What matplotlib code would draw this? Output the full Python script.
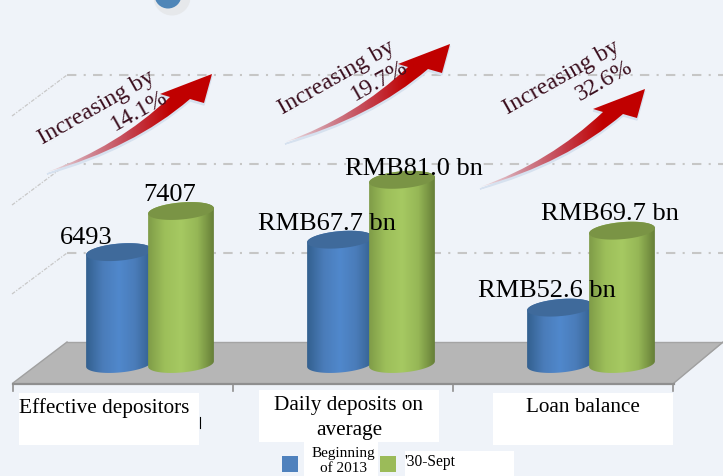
import numpy as np
import matplotlib
matplotlib.use("Agg")
import matplotlib.pyplot as plt
from matplotlib.colors import LinearSegmentedColormap
from matplotlib.patches import Circle, PathPatch, Polygon, Rectangle
from matplotlib.path import Path

plt.rcParams['font.family'] = ['Liberation Serif', 'DejaVu Serif']

categories = ["Effective depositors", "Daily deposits on\naverage", "Loan balance"]
series_names = ["Beginning\nof 2013", "'30-Sept"]
begin_values = [6493, 67.7, 52.6]
sept_values = [7407, 81.0, 69.7]
value_divisor = [100, 1, 1]  # depositors are plotted in hundreds
begin_labels = ["6493", "RMB67.7 bn", "RMB52.6 bn"]
sept_labels = ["7407", "RMB81.0 bn", "RMB69.7 bn"]
growth_labels = ["14.1%", "19.7%", "32.6%"]

BG = "#eff3f9"
AXIS_ZERO = 40.07   # value sitting on the floor
PX_PER_UNIT = 4.5
BASE_Y = 364

blue_cmap = LinearSegmentedColormap.from_list("b", ["#33608f", "#4a7cb9", "#5088cc", "#4a7cb9", "#34608f"])
green_cmap = LinearSegmentedColormap.from_list("g", ["#7f9c48", "#9dbf5a", "#a6c962", "#96b756", "#667f38"])
arrow_cmap = LinearSegmentedColormap.from_list("a", ["#efe6ea", "#d08a97", "#c4424f", "#c00000", "#c00000"])

fig = plt.figure(figsize=(7.23, 4.76), dpi=100, facecolor=BG)
ax = fig.add_axes([0, 0, 1, 1])
ax.set_facecolor(BG)
ax.axis("off")


def ellipse_pts(cx, cy, w, h, t):
    # ellipse tilted a little, right side higher
    a = np.deg2rad(-5)
    x = w / 2 * np.cos(t)
    y = h / 2 * np.sin(t)
    return cx + x * np.cos(a) - y * np.sin(a), cy + x * np.sin(a) + y * np.cos(a)


def draw_cylinder(left, value, cmap, top_color, z):
    w = 66
    top = BASE_Y - (value - AXIS_ZERO) * PX_PER_UNIT
    cx = left + w / 2
    bx, by = ellipse_pts(cx, BASE_Y, w, 17, np.linspace(0, np.pi, 40))
    tx, ty = ellipse_pts(cx, top, w, 17, np.linspace(np.pi, 2 * np.pi, 40))
    body = Polygon(np.column_stack([np.r_[bx, tx], np.r_[by, ty]]), closed=True,
                   transform=ax.transData, fc="none", ec="none")
    ax.add_patch(body)
    im = ax.imshow(np.linspace(0, 1, 128).reshape(1, -1), cmap=cmap, aspect="auto",
                   extent=[left, left + w, BASE_Y + 12, top - 12], zorder=z)
    im.set_clip_path(body)
    ex, ey = ellipse_pts(cx, top, w, 17, np.linspace(0, 2 * np.pi, 80))
    ax.fill(ex, ey, color=top_color, lw=0, zorder=z + 0.1)


def draw_arrow(tail_x, tail_y):
    verts = [(0, 0), (70, -25), (123, -75), (113, -78), (165, -98),
             (157, -69), (143, -73), (86, -24), (0, 0)]
    codes = [Path.MOVETO, Path.CURVE3, Path.CURVE3, Path.LINETO, Path.LINETO,
             Path.LINETO, Path.LINETO, Path.CURVE3, Path.CURVE3]
    shape = np.array(verts, dtype=float) + [tail_x, tail_y]
    # pale shadow under the arrow
    ax.add_patch(PathPatch(Path(shape + [0, 2], codes), fc="#d6e1ef", ec="#d6e1ef", lw=1, zorder=6))
    arrow = PathPatch(Path(shape, codes), fc="none", ec="none", transform=ax.transData)
    ax.add_patch(arrow)
    im = ax.imshow(np.linspace(0, 1, 128).reshape(1, -1), cmap=arrow_cmap, aspect="auto",
                   extent=[tail_x, tail_x + 165, tail_y + 2, tail_y - 100], zorder=7)
    im.set_clip_path(arrow)


# back wall gridlines and their diagonals
for y in [75, 164, 253]:
    ax.plot([67, 723], [y, y], color="#c6c6c6", lw=1.5, ls=(0, (4.5, 3.5, 1, 3.5)), zorder=1)
    ax.plot([12, 67], [y + 41, y], color="#c8c8c8", lw=0.9, ls=(0, (3, 1.2, 1, 1.2)), zorder=1)

# floor
ax.add_patch(Polygon([(13, 383), (67, 342), (723, 342), (723, 343), (674, 383)], closed=True,
                     fc="#b6b6b6", ec="none", zorder=2))
ax.plot([67, 723], [342, 342], color="#a4a4a4", lw=1, zorder=2)
ax.plot([13, 67], [383, 342], color="#a0a0a0", lw=1, zorder=2)
ax.plot([674, 723], [383, 342], color="#a0a0a0", lw=1, zorder=2)
ax.plot([13, 674], [384, 384], color="#8f8f8f", lw=1.6, zorder=3)
for x in [13, 233, 453, 673]:
    ax.plot([x, x], [384, 391], color="#8f8f8f", lw=1.2, zorder=3)

# bars
green_left = [148, 369, 589]
for i in range(3):
    draw_cylinder(green_left[i] - 62, begin_values[i] / value_divisor[i], blue_cmap, "#3f6a9b", 4)
    draw_cylinder(green_left[i], sept_values[i] / value_divisor[i], green_cmap, "#7a9445", 5)

# arrows
for tx, ty in [(47, 172), (285, 142), (480, 187)]:
    draw_arrow(tx, ty)

# value labels
begin_pos = [(86, 238), (327, 224), (547, 291)]
sept_pos = [(170, 195), (414, 169), (610, 214)]
for i in range(3):
    ax.text(*begin_pos[i], begin_labels[i], fontsize=19, color="black", ha="center", va="center", zorder=9)
    ax.text(*sept_pos[i], sept_labels[i], fontsize=19, color="black", ha="center", va="center", zorder=9)

# rotated growth labels
line1_pos = [(97, 108), (337, 78), (562, 78)]
for i in range(3):
    x, y = line1_pos[i]
    ax.text(x, y, "Increasing by", fontsize=17.3, color="#3b0f1e", rotation=29.5,
            rotation_mode="anchor", ha="center", va="center", zorder=9)
    ax.text(x + 42, y + 3, growth_labels[i], fontsize=17.3, color="#3b0f1e", rotation=29.5,
            rotation_mode="anchor", ha="center", va="center", zorder=9)

# category label boxes
boxes = [(19, 393), (259, 390), (493, 393)]
label_y = [408, 418, 408]
label_x = [104, 349, 583]
for i in range(3):
    ax.add_patch(Rectangle(boxes[i], 180, 52, fc="white", ec="none", zorder=8))
    ax.text(label_x[i], label_y[i], categories[i], fontsize=15.3, color="black", ha="center", va="center",
            linespacing=1.4, zorder=9)
ax.plot([200, 200], [417, 428], color="black", lw=0.8, zorder=8)

# legend
ax.add_patch(Rectangle((304, 442), 74, 34, fc="white", ec="none", zorder=8))
ax.add_patch(Rectangle((405, 451), 109, 25, fc="white", ec="none", zorder=8))
ax.add_patch(Rectangle((282, 456), 16, 16, fc="#4f81bd", ec="none", zorder=9))
ax.add_patch(Rectangle((380, 456), 16, 16, fc="#9bbb59", ec="none", zorder=9))
ax.text(343, 461, series_names[0], fontsize=11, ha="center", va="center", linespacing=1.15, zorder=10)
ax.text(404, 462, series_names[1], fontsize=11.2, ha="left", va="center", zorder=10)

# bit of a logo cut off at the top edge
ax.add_patch(Circle((172, -3), 18.5, fc="#e6e8eb", ec="none", zorder=2))
ax.add_patch(Circle((168, -5), 13.5, fc="#4f86b8", ec="none", zorder=3))

ax.set_xlim(0, 723)
ax.set_ylim(476, 0)
fig.savefig("out.png", dpi=100, facecolor=BG)
